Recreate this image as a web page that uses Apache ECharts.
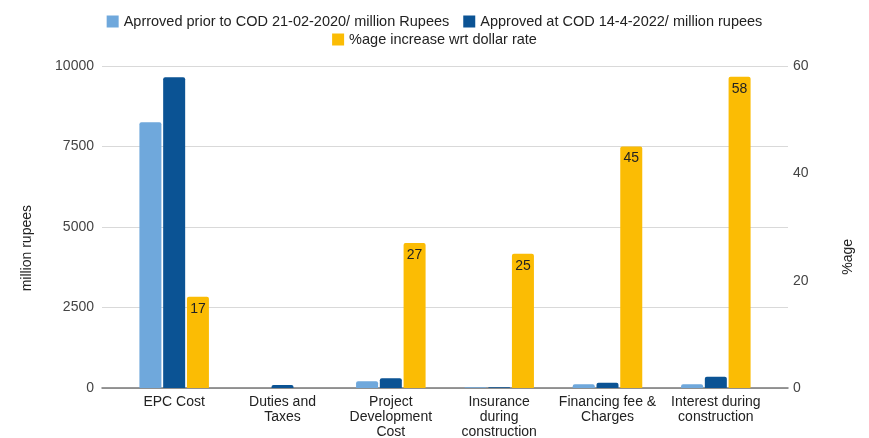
<!DOCTYPE html>
<html>
<head>
<meta charset="utf-8">
<script src="https://cdn.jsdelivr.net/npm/echarts@6/dist/echarts.min.js"></script>
<style>html,body{margin:0;padding:0;background:#fff;}#c{width:869px;height:438px;}</style>
</head>
<body>
<div id="c"></div>
<script>
var categories = ["EPC Cost", "Duties and\nTaxes", "Project\nDevelopment\nCost", "Insurance\nduring\nconstruction", "Financing fee &\nCharges", "Interest during\nconstruction"];
var seriesNames = ["Aprroved prior to COD 21-02-2020/ million Rupees", "Approved at COD 14-4-2022/ million rupees", "%age increase wrt dollar rate"];
var approvedPrior = [8250, 0, 210, 25, 120, 120];
var approvedCOD = [9650, 90, 300, 25, 160, 350];
var pctIncrease = [17, null, 27, 25, 45, 58];
var leftTicks = [0, 10000, 2500];   // min, max, interval
var rightTicks = [0, 60, 20];       // min, max, interval
var leftTitle = "million rupees";
var rightTitle = "%age";

var colors = ["#6fa8dc", "#0b5394", "#fbbc04"];
var font = "Arial, 'Liberation Sans', sans-serif";

var chart = echarts.init(document.getElementById('c'), null, {renderer: 'canvas'});
chart.setOption({
  animation: false,
  backgroundColor: '#fff',
  textStyle: {fontFamily: font},
  legend: [
    {data: [seriesNames[0], seriesNames[1]], top: 9, left: 'center', itemWidth: 12, itemHeight: 12, itemGap: 14,
     icon: 'rect', textStyle: {fontSize: 14.5, color: '#222', fontFamily: font}},
    {data: [seriesNames[2]], top: 27, left: 'center', itemWidth: 12, itemHeight: 12,
     icon: 'rect', textStyle: {fontSize: 14.5, color: '#222', fontFamily: font}}
  ],
  grid: [
    {left: 102, right: 81, top: 66, bottom: 50, containLabel: false, outerBoundsMode: 'none'},
    {left: 120, right: 99, top: 66, bottom: 50, containLabel: false, outerBoundsMode: 'none'}
  ],
  xAxis: [
    {gridIndex: 0, type: 'value', min: 0, max: 1, axisLabel: {show: false}, axisTick: {show: false},
     splitLine: {show: false}, axisLine: {show: true, lineStyle: {color: '#777', width: 1.5}}},
    {gridIndex: 1, type: 'category', data: categories, axisLine: {show: false}, axisTick: {show: false},
     axisLabel: {interval: 0, fontSize: 14, color: '#222', lineHeight: 15, margin: 7, fontFamily: font}}
  ],
  yAxis: [
    {gridIndex: 0, type: 'value', min: leftTicks[0], max: leftTicks[1], interval: leftTicks[2],
     axisLine: {show: false}, axisTick: {show: false},
     axisLabel: {fontSize: 14, color: '#444', margin: 8, fontFamily: font, formatter: function (v) { return String(v); }},
     splitLine: {lineStyle: {color: '#d9d9d9', width: 1}}},
    {gridIndex: 0, type: 'value', position: 'right', min: rightTicks[0], max: rightTicks[1], interval: rightTicks[2],
     axisLine: {show: false}, axisTick: {show: false},
     axisLabel: {fontSize: 14, color: '#444', margin: 5, fontFamily: font, formatter: function (v) { return String(v); }},
     splitLine: {show: false}},
    {gridIndex: 1, type: 'value', min: leftTicks[0], max: leftTicks[1], show: false, splitLine: {show: false}},
    {gridIndex: 1, type: 'value', min: rightTicks[0], max: rightTicks[1], show: false, splitLine: {show: false}}
  ],
  series: [
    {name: seriesNames[0], type: 'bar', xAxisIndex: 1, yAxisIndex: 2, data: approvedPrior,
     barWidth: 22, barGap: '8%', itemStyle: {color: colors[0], borderRadius: [2, 2, 0, 0]}},
    {name: seriesNames[1], type: 'bar', xAxisIndex: 1, yAxisIndex: 2, data: approvedCOD,
     barWidth: 22, barGap: '8%', itemStyle: {color: colors[1], borderRadius: [2, 2, 0, 0]}},
    {name: seriesNames[2], type: 'bar', xAxisIndex: 1, yAxisIndex: 3, data: pctIncrease,
     barWidth: 22, barGap: '8%', itemStyle: {color: colors[2], borderRadius: [2, 2, 0, 0]},
     label: {show: true, position: 'insideTop', distance: 5, fontSize: 14, color: '#222', fontFamily: font}}
  ],
  graphic: [
    {type: 'text', left: 20, top: 205, rotation: Math.PI / 2,
     style: {text: leftTitle, font: '14px ' + font, fill: '#222'}},
    {type: 'text', left: 841, top: 239, rotation: Math.PI / 2,
     style: {text: rightTitle, font: '14px ' + font, fill: '#222'}}
  ]
});
</script>
</body>
</html>
